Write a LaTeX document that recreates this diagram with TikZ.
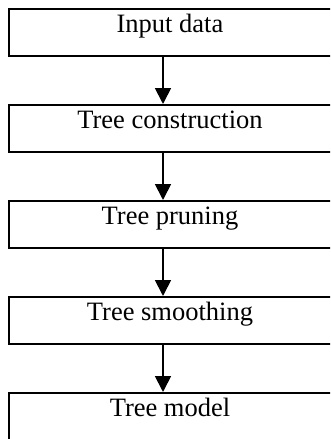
\documentclass[tikz,border=0pt]{standalone}
\usepackage{fontspec}
\setmainfont{Liberation Serif}
\usetikzlibrary{arrows.meta}
\begin{document}
\begin{tikzpicture}[x=1pt,y=1pt,
  stagebox/.style={draw=black, line width=1.8pt, rectangle, inner sep=0pt,
    minimum width=326pt, text height=24pt, text depth=23pt, anchor=north,
    font=\fontsize{26.5}{30}\selectfont},
  flowarrow/.style={draw=black, line width=1.8pt, -{Triangle[length=16pt,width=16pt]}, shorten >=0pt}]
\clip (0,0) rectangle (330,-439);
\fill[white] (0,0) rectangle (330,-439);
\node[stagebox] (n1) at (172,-8) {Input data\hspace*{4pt}};
\node[stagebox] (n2) at (172,-104) {Tree construction\hspace*{4pt}};
\node[stagebox] (n3) at (172,-200) {Tree pruning\hspace*{4pt}};
\node[stagebox] (n4) at (172,-296) {Tree smoothing\hspace*{4pt}};
\node[stagebox, text depth=40pt] (n5) at (172,-392) {Tree model\hspace*{4pt}};
\draw[flowarrow] ([xshift=-9pt]n1.south) -- ([xshift=-9pt]n2.north);
\draw[flowarrow] ([xshift=-9pt]n2.south) -- ([xshift=-9pt]n3.north);
\draw[flowarrow] ([xshift=-9pt]n3.south) -- ([xshift=-9pt]n4.north);
\draw[flowarrow] ([xshift=-9pt]n4.south) -- ([xshift=-9pt]n5.north);
\end{tikzpicture}
\end{document}
